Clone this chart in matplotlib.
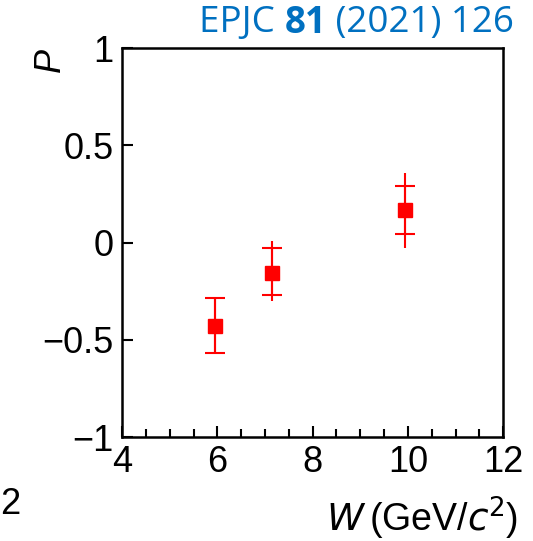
import matplotlib.pyplot as plt
from matplotlib.ticker import MultipleLocator

# values
W = [5.95, 7.15, 9.95]
P = [-0.43, -0.155, 0.17]
stat_lo = [0.14, 0.115, 0.125]
stat_hi = [0.145, 0.13, 0.12]
tot_lo = [0.14, 0.145, 0.20]
tot_hi = [0.145, 0.165, 0.19]

plt.rcParams['font.family'] = ['Liberation Sans', 'DejaVu Sans']

fig = plt.figure(figsize=(5.33, 5.41), dpi=100)
ax = fig.add_axes([0.229, 0.192, 0.715, 0.719])

# total errors, no caps
ax.errorbar(W, P, yerr=[tot_lo, tot_hi], fmt='none', ecolor='red',
            elinewidth=1.5, capsize=0)
# stat errors with crossbars
ax.errorbar(W, P, yerr=[stat_lo, stat_hi], fmt='s', color='red',
            markersize=10, elinewidth=1.5, capsize=7, capthick=1.5)

ax.set_xlim(4, 12)
ax.set_ylim(-1, 1)
ax.xaxis.set_major_locator(MultipleLocator(2))
ax.xaxis.set_minor_locator(MultipleLocator(0.5))
ax.tick_params(axis='both', which='both', direction='in', top=False, right=False,
               labelsize=26, width=1.5, pad=6)
ax.tick_params(axis='both', which='major', length=8)
ax.tick_params(axis='x', which='minor', length=6)
ax.set_yticks([-1, -0.5, 0, 0.5, 1])
ax.set_yticklabels(['\u22121', '\u22120.5', '0', '0.5', '1'])
for s in ax.spines.values():
    s.set_linewidth(1.8)

fig.text(0.095, 0.89, 'P', rotation=90, fontsize=26, style='italic',
         ha='center', va='center')
fig.text(0.972, 0.042, r'$\it{W}$$\,$(GeV/$\it{c}$$^{2}$)', fontsize=27,
         ha='right', va='center')
fig.text(0.0, 0.067, '2', fontsize=26, ha='left', va='center')

# reference label, "81" in bold
t1 = fig.text(0.374, 0.957, 'EPJC ', fontsize=26.5, color='#0070C0',
              ha='left', va='center', family='Open Sans')
fig.canvas.draw()
r = fig.canvas.get_renderer()
bb = t1.get_window_extent(r).transformed(fig.transFigure.inverted())
t2 = fig.text(bb.x1, 0.957, '81', fontsize=26.5, color='#0070C0', weight='bold',
              ha='left', va='center', family='Open Sans')
bb = t2.get_window_extent(r).transformed(fig.transFigure.inverted())
fig.text(bb.x1, 0.957, ' (2021) 126', fontsize=26.5, color='#0070C0',
         ha='left', va='center', family='Open Sans')

fig.savefig('out.png', dpi=100)
